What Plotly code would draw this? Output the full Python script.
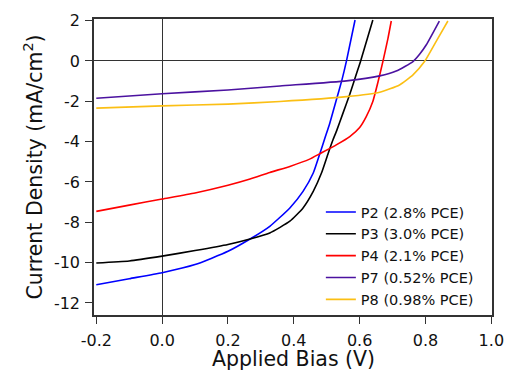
import plotly.graph_objects as go

# ---- data ----
p2_x = [-0.2, -0.1, 0.0, 0.1, 0.2, 0.267, 0.327, 0.388, 0.428, 0.459, 0.479, 0.494, 0.509, 0.528, 0.546, 0.56, 0.586]
p2_y = [-11.1, -10.8, -10.5, -10.1, -9.44, -8.83, -8.2, -7.29, -6.47, -5.56, -4.6, -3.85, -3.1, -2.0, -0.95, 0.0, 2.03]

p3_x = [-0.2, -0.1, 0.0, 0.1, 0.2, 0.267, 0.327, 0.388, 0.428, 0.459, 0.484, 0.504, 0.519, 0.531, 0.548, 0.57, 0.59, 0.603, 0.64]
p3_y = [-10.02, -9.92, -9.68, -9.4, -9.1, -8.83, -8.53, -7.95, -7.29, -6.47, -5.56, -4.6, -3.91, -3.42, -2.65, -1.65, -0.65, 0.0, 2.03]

p4_x = [-0.2, -0.1, 0.0, 0.1, 0.2, 0.267, 0.327, 0.388, 0.448, 0.479, 0.529, 0.57, 0.6, 0.62, 0.64, 0.656, 0.671, 0.686, 0.696]
p4_y = [-7.46, -7.15, -6.85, -6.55, -6.17, -5.86, -5.53, -5.23, -4.87, -4.6, -4.16, -3.75, -3.3, -2.76, -2.01, -1.02, 0.0, 1.12, 1.98]

p7_x = [-0.2, 0.0, 0.2, 0.358, 0.56, 0.661, 0.711, 0.762, 0.782, 0.802, 0.842]
p7_y = [-1.85, -1.63, -1.44, -1.24, -0.99, -0.74, -0.5, -0.03, 0.33, 0.79, 1.98]

p8_x = [-0.2, 0.0, 0.2, 0.358, 0.56, 0.661, 0.721, 0.762, 0.797, 0.832, 0.868]
p8_y = [-2.34, -2.23, -2.14, -2.01, -1.77, -1.55, -1.19, -0.69, -0.03, 0.96, 1.98]

series_names = ["P2 (2.8% PCE)", "P3 (3.0% PCE)", "P4 (2.1% PCE)", "P7 (0.52% PCE)", "P8 (0.98% PCE)"]
series_colors = ["#0000ff", "#000000", "#ff0000", "#4b12a0", "#fbbf14"]

x_tick_vals = [-0.2, 0.0, 0.2, 0.4, 0.6, 0.8, 1.0]
x_tick_text = ["-0.2", "0.0", "0.2", "0.4", "0.6", "0.8", "1.0"]
y_tick_vals = [-12, -10, -8, -6, -4, -2, 0, 2]
y_tick_text = ["-12", "-10", "-8", "-6", "-4", "-2", "0", "2"]
x_title = "Applied Bias (V)"
y_title = "Current Density (mA/cm<sup>2</sup>)"

FONT = "DejaVu Sans"

fig = go.Figure()
for xs, ys, name, col in zip([p2_x, p3_x, p4_x, p7_x, p8_x],
                             [p2_y, p3_y, p4_y, p7_y, p8_y],
                             series_names, series_colors):
    fig.add_trace(go.Scatter(x=xs, y=ys, mode="lines", name=name,
                             line=dict(color=col, width=1.6, shape="spline", smoothing=0.5)))

axis_common = dict(showline=True, mirror=True, linecolor="#333333", linewidth=1.5,
                   ticks="outside", ticklen=7, tickwidth=1, tickcolor="#333333",
                   showgrid=False, zeroline=True, zerolinecolor="#333333", zerolinewidth=1.2,
                   automargin=False,
                   tickfont=dict(family=FONT, size=16, color="#111111"))

fig.update_layout(
    width=506, height=372,
    margin=dict(l=94, r=14, t=19, b=57, autoexpand=False),
    paper_bgcolor="white", plot_bgcolor="white",
    font=dict(family=FONT, color="#111111"),
    xaxis=dict(range=[-0.207, 1.002], tickvals=x_tick_vals, ticktext=x_tick_text,
               ticklabelstandoff=3, **axis_common),
    yaxis=dict(range=[-12.6, 2.08], tickvals=y_tick_vals, ticktext=y_tick_text,
               ticklabelstandoff=2,
               title=dict(text=y_title, font=dict(family=FONT, size=20.5), standoff=6),
               **axis_common),
    legend=dict(x=0.57, y=0.402, xanchor="left", yanchor="top", bgcolor="rgba(0,0,0,0)",
                borderwidth=0, font=dict(family=FONT, size=14.5, color="#111111")),
    showlegend=True,
    annotations=[dict(text=x_title, xref="paper", yref="paper", x=0.5, y=-0.149,
                      xanchor="center", yanchor="middle", showarrow=False,
                      font=dict(family=FONT, size=20.5, color="#111111"))],
)

fig.write_html("out.html", config={"displayModeBar": False},
               post_script="document.body.style.margin='0';document.body.style.overflow='hidden';")
